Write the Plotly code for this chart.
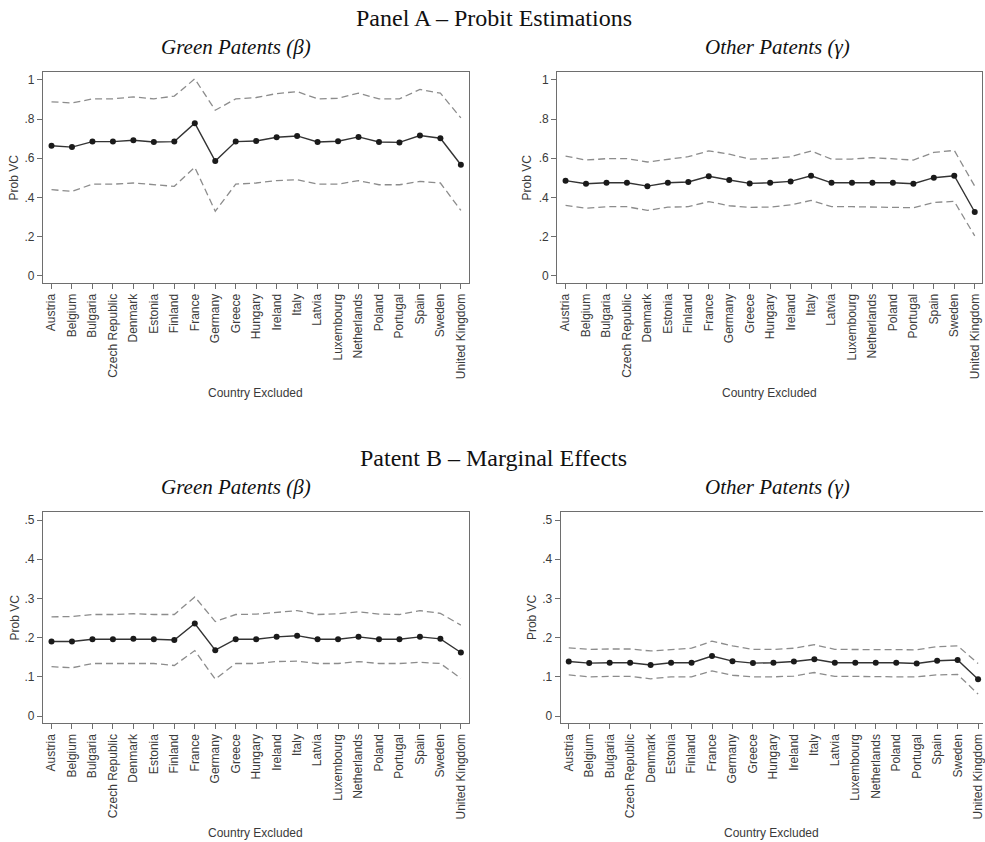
import plotly.graph_objects as go

countries = ["Austria", "Belgium", "Bulgaria", "Czech Republic", "Denmark", "Estonia",
             "Finland", "France", "Germany", "Greece", "Hungary", "Ireland", "Italy",
             "Latvia", "Luxembourg", "Netherlands", "Poland", "Portugal", "Spain",
             "Sweden", "United Kingdom"]

# Panel A - Probit estimations, Green patents (beta)
a_green_est = [0.664, 0.657, 0.685, 0.685, 0.692, 0.683, 0.685, 0.779, 0.586, 0.685, 0.688,
               0.707, 0.714, 0.683, 0.687, 0.709, 0.683, 0.681, 0.716, 0.702, 0.567]
a_green_hi = [0.888, 0.882, 0.903, 0.903, 0.913, 0.903, 0.917, 1.005, 0.845, 0.903, 0.910,
              0.930, 0.940, 0.903, 0.906, 0.932, 0.903, 0.903, 0.951, 0.932, 0.806]
a_green_lo = [0.440, 0.431, 0.468, 0.468, 0.474, 0.465, 0.457, 0.554, 0.330, 0.468, 0.474,
              0.486, 0.491, 0.468, 0.468, 0.486, 0.465, 0.465, 0.482, 0.474, 0.334]

# Panel A - Probit estimations, Other patents (gamma)
a_other_est = [0.486, 0.470, 0.475, 0.475, 0.458, 0.475, 0.479, 0.508, 0.489, 0.472, 0.475,
               0.482, 0.511, 0.475, 0.475, 0.475, 0.475, 0.470, 0.501, 0.511, 0.326]
a_other_hi = [0.611, 0.591, 0.598, 0.598, 0.581, 0.596, 0.608, 0.638, 0.621, 0.596, 0.598,
              0.608, 0.637, 0.596, 0.596, 0.603, 0.598, 0.591, 0.630, 0.640, 0.458]
a_other_lo = [0.360, 0.345, 0.353, 0.353, 0.334, 0.351, 0.353, 0.379, 0.358, 0.350, 0.351,
              0.362, 0.385, 0.353, 0.353, 0.351, 0.351, 0.348, 0.375, 0.380, 0.204]

# Panel B - Marginal effects, Green patents (beta)
b_green_est = [0.190, 0.190, 0.196, 0.196, 0.197, 0.196, 0.194, 0.236, 0.168, 0.196, 0.196,
               0.202, 0.205, 0.196, 0.196, 0.202, 0.196, 0.196, 0.202, 0.197, 0.162]
b_green_hi = [0.253, 0.254, 0.259, 0.259, 0.261, 0.259, 0.259, 0.304, 0.241, 0.259, 0.260,
              0.265, 0.269, 0.259, 0.261, 0.266, 0.260, 0.259, 0.269, 0.262, 0.232]
b_green_lo = [0.126, 0.123, 0.134, 0.134, 0.134, 0.134, 0.129, 0.167, 0.094, 0.134, 0.134,
              0.139, 0.140, 0.134, 0.134, 0.139, 0.134, 0.134, 0.137, 0.134, 0.096]

# Panel B - Marginal effects, Other patents (gamma)
b_other_est = [0.139, 0.135, 0.136, 0.136, 0.130, 0.136, 0.136, 0.153, 0.140, 0.135, 0.136,
               0.139, 0.145, 0.136, 0.136, 0.136, 0.136, 0.134, 0.141, 0.143, 0.094]
b_other_hi = [0.174, 0.170, 0.171, 0.171, 0.166, 0.170, 0.173, 0.191, 0.179, 0.170, 0.170,
              0.173, 0.182, 0.170, 0.170, 0.170, 0.170, 0.169, 0.177, 0.179, 0.134]
b_other_lo = [0.105, 0.100, 0.101, 0.101, 0.095, 0.100, 0.100, 0.115, 0.104, 0.100, 0.100,
              0.102, 0.111, 0.101, 0.101, 0.100, 0.100, 0.100, 0.105, 0.106, 0.056]

a_ticks = [0, 0.2, 0.4, 0.6, 0.8, 1]
a_ticklabels = ["0", ".2", ".4", ".6", ".8", "1"]
b_ticks = [0, 0.1, 0.2, 0.3, 0.4, 0.5]
b_ticklabels = ["0", ".1", ".2", ".3", ".4", ".5"]

W, H = 985, 842
fig = go.Figure()

panels = [
    (a_green_est, a_green_hi, a_green_lo, 1, (43, 470), (72, 283), [-0.42, 20.4], [-0.036, 1.04], a_ticks, a_ticklabels, True),
    (a_other_est, a_other_hi, a_other_lo, 2, (558.3, 984.3), (72, 283), [-0.41, 20.37], [-0.036, 1.04], a_ticks, a_ticklabels, True),
    (b_green_est, b_green_hi, b_green_lo, 3, (43, 470), (511.7, 723.3), [-0.42, 20.4], [-0.0186, 0.5214], b_ticks, b_ticklabels, True),
    (b_other_est, b_other_hi, b_other_lo, 4, (561.7, 985), (511.7, 723.3), [-0.40, 20.24], [-0.0186, 0.5214], b_ticks, b_ticklabels, False),
]

text_font = dict(family="Liberation Sans, Arial, sans-serif", size=12, color="#3a3a3a")
frame_col = "#6e6e6e"

for est, hi, lo, idx, xpx, ypx, xr, yr, tv, tt, mir in panels:
    xa = "x" if idx == 1 else f"x{idx}"
    ya = "y" if idx == 1 else f"y{idx}"
    for series in (hi, lo):
        fig.add_trace(go.Scatter(x=countries, y=series, mode="lines", xaxis=xa, yaxis=ya,
                                 line=dict(color="#8c8c8c", width=1.3, dash="7px,4px"),
                                 showlegend=False, hoverinfo="skip"))
    fig.add_trace(go.Scatter(x=countries, y=est, mode="lines+markers", xaxis=xa, yaxis=ya,
                             line=dict(color="#333333", width=1.4),
                             marker=dict(color="#1a1a1a", size=6),
                             showlegend=False, cliponaxis=False))
    xkey = "xaxis" if idx == 1 else f"xaxis{idx}"
    ykey = "yaxis" if idx == 1 else f"yaxis{idx}"
    xdom = [xpx[0] / W, min(xpx[1] / W, 1.0)]
    ydom = [1 - ypx[1] / H, 1 - ypx[0] / H]
    fig.update_layout(**{
        xkey: dict(domain=xdom, anchor=ya, type="category", range=xr,
                   showline=True, linecolor=frame_col, linewidth=1, mirror=True,
                   ticks="outside", ticklen=5, tickcolor=frame_col, tickwidth=1,
                   tickangle=-90, tickfont=text_font, showgrid=False, zeroline=False,
                   categoryorder="array", categoryarray=countries),
        ykey: dict(domain=ydom, anchor=xa, range=yr,
                   showline=True, linecolor=frame_col, linewidth=1, mirror=mir,
                   ticks="outside", ticklen=5, tickcolor=frame_col, tickwidth=1,
                   tickvals=tv, ticktext=tt, tickfont=text_font,
                   showgrid=False, zeroline=False),
    })

annotations = []
serif = "Liberation Serif, Times New Roman, serif"


def ann(text, x, y, font, angle=0):
    return dict(text=text, x=x / W, y=1 - y / H, xref="paper", yref="paper",
                xanchor="center", yanchor="middle", showarrow=False,
                textangle=angle, font=font)


title_font = dict(family=serif, size=24, color="#111")
sub_font = dict(family=serif, size=21, color="#111")
annotations.append(ann("Panel A – Probit Estimations", 495, 18, title_font))
annotations.append(ann("Patent B – Marginal Effects", 495, 458, title_font))
for yy in (47, 487):
    annotations.append(ann("<i>Green Patents (β)</i>", 236, yy, sub_font))
    annotations.append(ann("<i>Other Patents (γ)</i>", 779, yy, sub_font))
for cx, cy in ((256.5, 393), (771, 393), (256.5, 833), (773, 833)):
    annotations.append(ann("Country Excluded", cx, cy, text_font))
for cx, cy in ((15, 177.5), (529, 177.5), (15, 617.5), (532.7, 617.5)):
    annotations.append(ann("Prob VC", cx, cy, text_font, angle=-90))

fig.update_layout(width=W, height=H, margin=dict(l=0, r=0, t=0, b=0),
                  paper_bgcolor="white", plot_bgcolor="white",
                  annotations=annotations, showlegend=False)

fig.write_html("out.html", config={"displayModeBar": False},
               post_script="document.body.style.margin='0';document.body.style.overflow='hidden';")
